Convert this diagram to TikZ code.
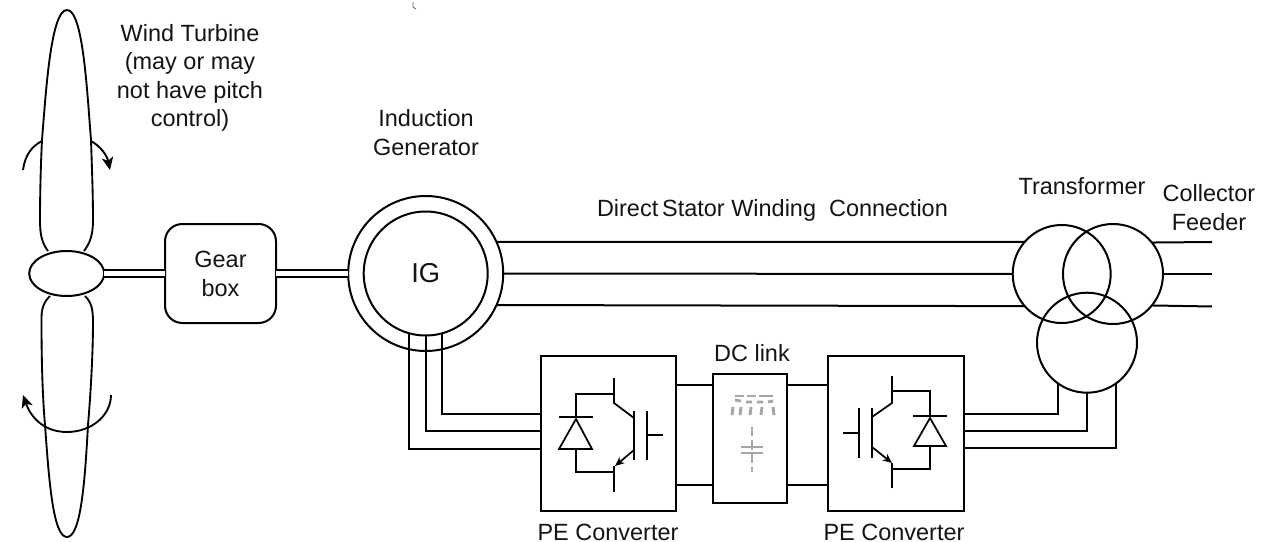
\documentclass[tikz,border=0pt]{standalone}
\usepackage{fontspec}
\setmainfont{Liberation Sans}
\usetikzlibrary{arrows.meta,shapes.geometric}
\tikzset{
  lw/.style={line width=1.5pt,line cap=butt,line join=miter},
  every node/.style={inner sep=0pt,outer sep=0pt},
  lbl/.style={align=center,font=\fontsize{17.6}{21.4}\selectfont,text=black!92},
  ring/.style={draw,lw,circle,minimum size=#1*0.75pt},
  conn/.style={lw,draw},
  sym/.style={lw,draw,line width=1.3pt},
  shaft/.style={draw,line width=1.5pt,double,double distance=4.4pt},
  tip/.style={-{Stealth[length=9.5pt,width=8.5pt,inset=2.5pt]}},
  ghost/.style={draw=black!35,line width=2.2pt},
}
\begin{document}
\begin{tikzpicture}[x=0.75pt,y=-0.75pt]
\useasboundingbox (0,0) rectangle (1268,542);
% stray mark
\draw[black!60,line width=0.7pt] (413,2) -- (413,7) -- (416,9);
% blades
\draw[lw,line width=1.4pt] (48,251) .. controls (42,243) and (40,235) .. (40,220) .. controls (40,190) and (41,160) .. (42,140) .. controls (46,90) and (51,10) .. (67,10) .. controls (83,10) and (87,90) .. (91,140) .. controls (92,170) and (93,195) .. (93,220) .. controls (93,235) and (90,243) .. (84,251);
\draw[lw,line width=1.4pt] (50,296) .. controls (44,302) and (41,308) .. (41.5,322) .. controls (41.5,350) and (42,390) .. (45,425) .. controls (49,480) and (53,537) .. (67,537) .. controls (81,537) and (85,480) .. (88,425) .. controls (91,390) and (93,350) .. (93,322) .. controls (93,308) and (91,302) .. (85,296);
% rotation arrows
\draw[lw,line width=1.4pt] (23,170) .. controls (25,155) and (32,146) .. (42,141);
\draw[lw,line width=1.4pt,tip] (91,141) .. controls (100,146) and (107,155) .. (110,170);
\draw[lw,line width=1.4pt,tip] (111,395) .. controls (111,415) and (92,432) .. (67,432) .. controls (42,432) and (30,415) .. (23,395);
% nodes
\node[draw,lw,ellipse,minimum width=75*0.75pt,minimum height=45*0.75pt] (hub) at (66.7,273.5) {};
\node[draw,lw,rectangle,rounded corners=13pt,minimum width=111*0.75pt,minimum height=99*0.75pt,lbl,font=\fontsize{17.6}{21.8}\selectfont] (gear) at (220.5,273.5) {Gear\\box};
\node[ring=155] (ig) at (425.7,273.5) {};
\node[ring=124,font=\fontsize{20.5}{24}\selectfont,text=black!92] (igin) at (425.7,273.5) {IG};
\node[ring=98] (t1) at (1061.7,274) {};
\node[ring=100] (t2) at (1113,274) {};
\node[ring=100] (t3) at (1087,342.7) {};
\node[draw,lw,minimum width=134.7*0.75pt,minimum height=155*0.75pt] (conv1) at (608.3,433.2) {};
\node[draw,lw,minimum width=73.7*0.75pt,minimum height=129.3*0.75pt] (dc) at (749.8,438.3) {};
\node[draw,lw,minimum width=136*0.75pt,minimum height=155*0.75pt] (conv2) at (895.7,433.2) {};
% labels
\node[lbl] (lwt) at (190,78) {Wind Turbine\\(may or may\\not have pitch\\control)};
\node[lbl] (lig) at (426,132.5) {Induction\\Generator};
\node[lbl,anchor=west] (lds) at (597,210.5) {Direct\,Stator Winding\ \ Connection};
\node[lbl] (ltr) at (1082,186) {Transformer};
\node[lbl] (lcf) at (1209,207.5) {Collector\\Feeder};
\node[lbl] (ldc) at (752,353) {DC link};
\node[lbl] (lp1) at (608,532) {PE Converter};
\node[lbl] (lp2) at (894,532) {PE Converter};
% free ends
\coordinate (f1) at (1212,242);
\coordinate (f2) at (1212,274);
\coordinate (f3) at (1212,306.5);
\coordinate (a1) at (541,414);
\coordinate (a2) at (541,431);
\coordinate (a3) at (541,449);
\coordinate (b1) at (963.7,414);
\coordinate (b2) at (963.7,431);
\coordinate (b3) at (963.7,448);
% connectors
\draw[shaft] (hub.east) -- (gear.west);
\draw[shaft] (gear.east) -- (ig.west);
\draw[conn] (ig.24) -- (t1.139);
\draw[conn] (ig.0) -- (t1.180);
\draw[conn] (ig.-24) -- (t1.221);
\draw[conn] (t2.39.8) -- (f1);
\draw[conn] (t2.0) -- (f2);
\draw[conn] (t2.-39.8) -- (f3);
\draw[conn] (igin.-75.1) |- (a1);
\draw[conn] (igin.-90) |- (a2);
\draw[conn] (igin.-106.9) |- (a3);
\draw[conn] (t3.-125.45) |- (b1);
\draw[conn] (t3.-90) |- (b2);
\draw[conn] (t3.-54.55) |- (b3);
\draw[conn] (conv1.east |- 0,385) -- (dc.west |- 0,385);
\draw[conn] (conv1.east |- 0,485) -- (dc.west |- 0,485);
\draw[conn] (dc.east |- 0,385) -- (conv2.west |- 0,385);
\draw[conn] (dc.east |- 0,485) -- (conv2.west |- 0,485);
% left converter symbol
\draw[sym] (614,378) -- (614,403) -- (634,418);
\draw[sym] (614,492) -- (614,466);
\draw[sym] (634,411) -- (634,460);
\draw[sym] (647,411) -- (647,460);
\draw[sym] (647,435) -- (663,435);
\draw[sym,-{Stealth[length=7pt,width=6pt]}] (634,450) -- (615,466);
\draw[sym] (614,394) -- (576,394) -- (576,417);
\draw[sym] (559,417) -- (593,417);
\draw[sym] (576,419) -- (559,449) -- (592,449) -- cycle;
\draw[sym] (576,449) -- (576,472) -- (614,472);
% right converter symbol
\draw[sym] (892,376) -- (892,403) -- (872,417);
\draw[sym] (892,488) -- (892,463);
\draw[sym] (872,408) -- (872,458);
\draw[sym] (859,408) -- (859,458);
\draw[sym] (843,433) -- (859,433);
\draw[sym,-{Stealth[length=7pt,width=6pt]}] (872,447) -- (892,463);
\draw[sym] (892,391) -- (930,391) -- (930,416);
\draw[sym] (913,416) -- (947,416);
\draw[sym] (930,418) -- (914,446) -- (946,446) -- cycle;
\draw[sym] (930,446) -- (930,469) -- (892,469);
% faded DC link symbols
\draw[ghost] (735,396) -- (744,396) (747,396) -- (756,396) (759,396) -- (773,396);
\draw[ghost] (735,400) -- (741,401) (746,402) -- (752,402) (757,402) -- (763,402) (768,402) -- (773,401);
\draw[ghost] (733,407) -- (732,415) (741,407) -- (740,415) (751,407) -- (750,415) (762,407) -- (761,415) (773,407) -- (774,415);
\draw[ghost,line width=1.6pt,dash pattern=on 7pt off 3pt] (752,427) -- (752,472);
\draw[ghost] (741,447) -- (763,447) (741,453) -- (763,453);
\end{tikzpicture}
\end{document}
